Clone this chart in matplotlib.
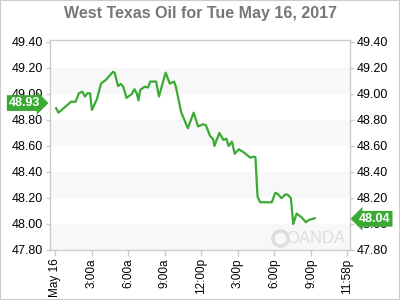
import matplotlib
matplotlib.use('Agg')
import matplotlib.pyplot as plt
from matplotlib.patches import Rectangle
from matplotlib.transforms import blended_transform_factory

plt.rcParams['font.family'] = ['Liberation Sans', 'DejaVu Sans']

# hours after midnight, May 16 2017
hours = [0.08, 0.28, 1.31, 1.68, 1.95, 2.24, 2.45, 2.65, 2.87, 3.02, 3.43, 3.77,
         4.19, 4.46, 4.75, 4.88, 5.17, 5.39, 5.59, 5.86, 6.28, 6.51, 6.70, 6.84,
         6.98, 7.35, 7.62, 7.81, 8.29, 8.52, 9.07, 9.41, 9.77, 9.91, 10.33, 10.89,
         11.37, 11.73, 12.14, 12.37, 12.70, 12.98, 13.07, 13.48, 13.82, 14.05, 14.24,
         14.51, 14.74, 15.08, 15.49, 16.02, 16.33, 16.44, 16.61, 16.83, 17.78, 18.07,
         18.29, 18.57, 18.90, 19.12, 19.35, 19.54, 19.82, 20.24, 20.58, 20.80, 21.30]
prices = [48.89, 48.856, 48.94, 48.94, 49.005, 49.018, 48.98, 49.005, 49.005, 48.877,
          48.96, 49.08, 49.11, 49.14, 49.17, 49.164, 49.06, 49.077, 49.056, 48.97,
          48.998, 49.036, 49.005, 48.95, 49.03, 49.056, 49.05, 49.095, 49.095, 48.98,
          49.164, 49.08, 49.095, 49.056, 48.864, 48.736, 48.856, 48.75, 48.767, 48.76,
          48.68, 48.65, 48.60, 48.70, 48.646, 48.656, 48.60, 48.633, 48.54, 48.575,
          48.55, 48.51, 48.518, 48.513, 48.21, 48.167, 48.167, 48.24, 48.23, 48.198,
          48.228, 48.223, 48.198, 48.0, 48.08, 48.05, 48.013, 48.03, 48.044]

tick_hours = [0, 3, 6, 9, 12, 15, 18, 21, 23.967]
tick_labels = ['May 16', '3:00a', '6:00a', '9:00a', '12:00p', '3:00p', '6:00p', '9:00p', '11:58p']
y_ticks = [47.8, 48.0, 48.2, 48.4, 48.6, 48.8, 49.0, 49.2, 49.4]
open_price = 48.93
last_price = 48.04

green = '#3aaa35'
grid_gray = '#cccccc'

fig = plt.figure(figsize=(4, 3), dpi=100)
fig.patches.append(Rectangle((0, 0), 1, 1, transform=fig.transFigure,
                             fill=False, edgecolor='#cccccc', lw=1.5))
ax = fig.add_axes([0.125, 0.1667, 0.75, 0.70])

# alternating bands
for lo in [47.8, 48.2, 48.6, 49.0]:
    ax.axhspan(lo, lo + 0.2, color='#f8f8f8', lw=0, zorder=0)

ax.plot(hours, prices, color=green, lw=1.6, zorder=3)

ax.set_xlim(-0.42, 24.2)
ax.set_ylim(47.8, 49.415)
ax.set_yticks(y_ticks)
ax.set_yticklabels([f'{v:.2f}' for v in y_ticks])
ax.set_xticks(tick_hours)
ax.set_xticklabels(tick_labels, rotation=90, fontsize=8.5)
ax.tick_params(axis='y', left=True, right=True, labelleft=True, labelright=True,
               length=3, width=1, color=grid_gray, labelsize=9, pad=2)
ax.tick_params(axis='x', length=4, width=1, color=grid_gray, pad=2)
for s in ax.spines.values():
    s.set_color(grid_gray)
    s.set_linewidth(1)

fig.text(0.5, 0.955, 'West Texas Oil for Tue May 16, 2017', ha='center', va='center',
         fontsize=11.5, fontweight='bold', color='#777777')

tr = blended_transform_factory(ax.transAxes, ax.transData)
ax.text(-0.033, open_price, f'{open_price:.2f}', transform=tr, ha='right', va='center',
        color='white', fontsize=9, fontweight='bold', clip_on=False, zorder=5,
        bbox=dict(boxstyle='rarrow,pad=0.15', fc=green, ec='none'))
ax.text(1.03, last_price, f'{last_price:.2f}', transform=tr, ha='left', va='center',
        color='white', fontsize=9, fontweight='bold', clip_on=False, zorder=5,
        bbox=dict(boxstyle='larrow,pad=0.15', fc=green, ec='none'))

# watermark
ax.text(0.985, 0.055, 'OANDA', transform=ax.transAxes, ha='right', va='center',
        fontsize=12, color='#dddddd', zorder=1)
ax.plot([0.765], [0.055], transform=ax.transAxes, marker='o', ms=11,
        mfc='none', mew=2.5, mec='#dddddd', zorder=1)

plt.savefig('out.png', dpi=100)
